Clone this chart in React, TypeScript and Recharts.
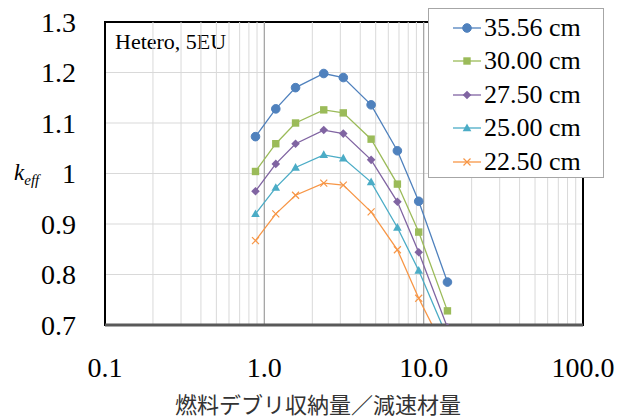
import { LineChart, Line, XAxis, YAxis, CartesianGrid, ReferenceLine, ReferenceArea, Legend } from 'recharts';

// ratio of debris to moderator (x), shared by every series
const ratios = [0.88, 1.18, 1.57, 2.36, 3.13, 4.68, 6.84, 9.31, 14.1];

const k3556 = [1.073, 1.128, 1.170, 1.198, 1.190, 1.136, 1.045, 0.945, 0.785];
const k3000 = [1.004, 1.059, 1.100, 1.126, 1.120, 1.068, 0.979, 0.884, 0.728];
const k2750 = [0.965, 1.019, 1.059, 1.086, 1.079, 1.027, 0.944, 0.844, 0.695];
const k2500 = [0.920, 0.972, 1.012, 1.037, 1.030, 0.983, 0.893, 0.808, 0.675];
const k2250 = [0.867, 0.920, 0.957, 0.981, 0.977, 0.924, 0.849, 0.753, 0.640];

const seriesNames = ['35.56 cm', '30.00 cm', '27.50 cm', '25.00 cm', '22.50 cm'];
const seriesValues = [k3556, k3000, k2750, k2500, k2250];
const colors = ['#4F81BD', '#9BBB59', '#8064A2', '#4BACC6', '#F79646'];
const shapes = ['circle', 'square', 'diamond', 'triangle', 'cross'];

const xTicks = [0.1, 1, 10, 100];
const yTicks = [0.7, 0.8, 0.9, 1, 1.1, 1.2, 1.3];
const minorX = [0.2, 0.3, 0.4, 0.5, 0.6, 0.7, 0.8, 0.9, 2, 3, 4, 5, 6, 7, 8, 9, 20, 30, 40, 50, 60, 70, 80, 90];
const majorX = [1, 10];

const rows = ratios.map((x, i) => {
  const row: Record<string, number> = { x };
  seriesValues.forEach((vals, s) => {
    row['s' + s] = vals[i];
  });
  return row;
});

const serif = 'Liberation Serif, Times New Roman, serif';

function marker(shape: string, color: string, cx: number, cy: number, key?: string) {
  if (shape === 'circle') return <circle key={key} cx={cx} cy={cy} r={4.3} fill={color} stroke={color} />;
  if (shape === 'square') return <rect key={key} x={cx - 3.7} y={cy - 3.7} width={7.4} height={7.4} fill={color} />;
  if (shape === 'diamond')
    return <path key={key} d={`M${cx},${cy - 4.3}L${cx + 4.3},${cy}L${cx},${cy + 4.3}L${cx - 4.3},${cy}Z`} fill={color} />;
  if (shape === 'triangle')
    return <path key={key} d={`M${cx},${cy - 4.5}L${cx + 4.3},${cy + 3.2}L${cx - 4.3},${cy + 3.2}Z`} fill={color} />;
  return (
    <path key={key} d={`M${cx - 3.5},${cy - 3.5}L${cx + 3.5},${cy + 3.5}M${cx + 3.5},${cy - 3.5}L${cx - 3.5},${cy + 3.5}`} stroke={color} strokeWidth={1.2} fill="none" />
  );
}

const makeDot = (shape: string, color: string) => (props: any) => {
  const { cx, cy, index } = props;
  if (cx == null || cy == null) return <g key={'n' + index} />;
  return marker(shape, color, cx, cy, `${shape}-${index}`);
};

const LegendBox = () => (
  <div
    style={{
      width: 176,
      height: 170,
      boxSizing: 'border-box',
      border: '1px solid #A6A6A6',
      background: '#fff',
      paddingTop: 2,
      paddingLeft: 24,
      fontFamily: serif,
      fontSize: 26,
      color: '#000',
    }}
  >
    {seriesNames.map((name, i) => (
      <div key={name} style={{ height: 33.5, display: 'flex', alignItems: 'center' }}>
        <svg width={28} height={20} style={{ marginRight: 3 }}>
          <line x1={0} y1={10} x2={28} y2={10} stroke={colors[i]} strokeWidth={1.3} />
          {marker(shapes[i], colors[i], 14, 10)}
        </svg>
        <span style={{ lineHeight: 1, fontFamily: serif }}>{name}</span>
      </div>
    ))}
  </div>
);

export default function App() {
  return (
    <div style={{ position: 'absolute', left: 0, top: 0, width: 630, height: 419, background: '#fff', fontFamily: serif }}>
      <LineChart width={630} height={419} data={rows} margin={{ top: 22, right: 47, bottom: 34, left: 0 }} style={{ fontFamily: serif }}>
        <CartesianGrid vertical={false} stroke="#D9D9D9" strokeWidth={1} />
        {minorX.map((v) => (
          <ReferenceLine key={'m' + v} x={v} stroke="#D9D9D9" strokeWidth={1} />
        ))}
        {majorX.map((v) => (
          <ReferenceLine key={'M' + v} x={v} stroke="#A6A6A6" strokeWidth={1.3} />
        ))}
        <XAxis
          dataKey="x"
          type="number"
          scale="log"
          domain={[0.1, 100]}
          ticks={xTicks}
          allowDataOverflow
          height={60}
          tickSize={0}
          tickMargin={32}
          axisLine={{ stroke: '#595959', strokeWidth: 3 }}
          tickFormatter={(v: number) => v.toFixed(1)}
          tick={{ fill: '#000', fontSize: 28, fontFamily: serif, style: { fontFamily: serif } }}
          label={{
            content: () => (
              <text x={318} y={413} textAnchor="middle" fontSize={22} fontFamily="Noto Sans CJK JP, sans-serif" fill="#333">
                燃料デブリ収納量／減速材量
              </text>
            ),
          }}
        />
        <YAxis
          type="number"
          domain={[0.7, 1.3]}
          ticks={yTicks}
          allowDataOverflow
          width={105}
          tickSize={0}
          tickMargin={29}
          axisLine={false}
          tickFormatter={(v: number) => String(Number(v.toFixed(1)))}
          tick={{ fill: '#000', fontSize: 28, fontFamily: serif, style: { fontFamily: serif } }}
          label={{
            content: () => (
              <text x={14} y={180} fontSize={23} fontFamily={serif} fontStyle="italic" fill="#000">
                k
                <tspan fontSize={15} dy={5}>eff</tspan>
              </text>
            ),
          }}
        />
        {seriesValues.map((_, s) => (
          <Line
            key={s}
            dataKey={'s' + s}
            name={seriesNames[s]}
            stroke={colors[s]}
            strokeWidth={1.3}
            dot={makeDot(shapes[s], colors[s])}
            activeDot={false}
            isAnimationActive={false}
          />
        ))}
        <ReferenceArea
          x1={0.1}
          x2={100}
          y1={0.7}
          y2={1.3}
          fill="none"
          fillOpacity={0}
          stroke="#000"
          strokeWidth={2}
          label={{
            content: (p: any) => (
              <text x={p.viewBox.x + 10} y={p.viewBox.y + 27} fontSize={22} fontFamily={serif} fill="#000">
                Hetero, 5EU
              </text>
            ),
          }}
        />
        <Legend
          layout="vertical"
          align="center"
          verticalAlign="middle"
          content={() => <LegendBox />}
          wrapperStyle={{ left: 428, top: 8, width: 176, height: 170 }}
        />
      </LineChart>
    </div>
  );
}
